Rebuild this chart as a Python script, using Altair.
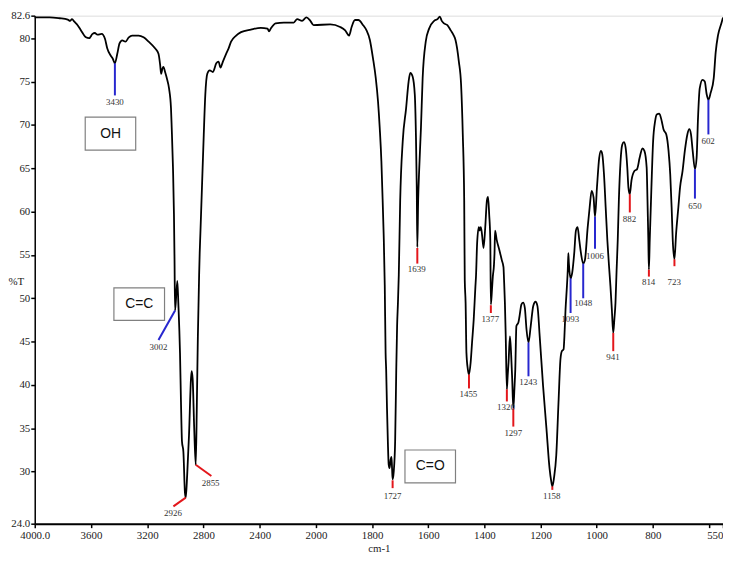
import altair as alt
import pandas as pd

# ---- spectrum (wavenumber cm-1, %T) ----
wn = [4000, 3894, 3824, 3765, 3749, 3735, 3718, 3695, 3671, 3636, 3613, 3589, 3573, 3554, 3524,
      3500, 3484, 3460, 3444, 3430, 3413, 3397, 3378, 3355, 3331, 3308, 3261, 3226, 3190, 3143,
      3120, 3108, 3101, 3092, 3085, 3073, 3061, 3045, 3031, 3026, 3017, 3010, 3006, 3002, 2986,
      2979, 2967, 2960, 2953, 2943, 2932, 2926, 2916, 2903, 2889, 2884, 2877, 2866, 2855, 2847,
      2840, 2831, 2827, 2822, 2810, 2798, 2787, 2773, 2756, 2733, 2709, 2693, 2679, 2662, 2639,
      2622, 2604, 2568, 2533, 2463, 2392, 2345, 2334, 2322, 2287, 2228, 2158, 2134, 2099, 2068,
      2040, 2017, 1949, 1914, 1896, 1882, 1873, 1861, 1849, 1832, 1820, 1808, 1797, 1787, 1779,
      1773, 1767, 1764, 1759, 1755, 1752, 1750, 1747, 1744, 1741, 1738, 1734, 1731, 1729, 1727,
      1723, 1718, 1714, 1711, 1708, 1705, 1700, 1691, 1679, 1670, 1664, 1656, 1648, 1644, 1641,
      1639, 1636, 1633, 1626, 1620, 1609, 1597, 1579, 1567, 1559, 1552, 1544, 1532, 1520, 1509,
      1503, 1491, 1483, 1477, 1472, 1470, 1467, 1464, 1459, 1455, 1449, 1444, 1438, 1432, 1430,
      1426, 1420, 1417, 1413, 1409, 1403, 1397, 1391, 1387, 1383, 1379, 1377, 1373, 1370, 1366,
      1364, 1362, 1356, 1347, 1338, 1332, 1330, 1327, 1324, 1320, 1317, 1314, 1309, 1305, 1301,
      1297, 1293, 1290, 1286, 1279, 1275, 1268, 1262, 1256, 1250, 1243, 1235, 1226, 1218, 1211,
      1203, 1191, 1179, 1168, 1162, 1158, 1152, 1144, 1136, 1129, 1124, 1118, 1115, 1111, 1106,
      1103, 1101, 1099, 1093, 1087, 1080, 1074, 1068, 1062, 1056, 1048, 1042, 1032, 1025, 1018,
      1011, 1006, 999, 991, 985, 980, 974, 968, 962, 956, 951, 946, 941, 937, 933,
      929, 925, 921, 915, 909, 903, 897, 891, 887, 882, 876, 865, 856, 847, 837,
      830, 822, 819, 816, 814, 811, 805, 799, 792, 786, 777, 768, 762, 752, 744,
      738, 733, 729, 723, 717, 709, 703, 694, 686, 677, 670, 664, 658, 650, 644,
      639, 633, 623, 615, 608, 602, 594, 583, 576, 568, 556, 550]
tr = [82.4, 82.4, 82.3, 82.15, 82.0, 82.2, 81.9, 81.5, 80.9, 80.1, 80.0, 80.5, 80.6, 80.4, 80.5,
      79.9, 78.8, 78.0, 77.6, 77.1, 78.2, 79.4, 79.75, 79.6, 80.1, 80.3, 80.3, 80.1, 79.6, 78.8,
      78.2, 76.9, 75.9, 76.5, 76.7, 76.1, 75.4, 74.2, 71.9, 69.7, 65.1, 59.7, 54.5, 48.6, 52.0,
      49.5, 43.7, 38.0, 33.5, 32.3, 27.6, 27.0, 29.6, 34.2, 40.7, 41.6, 40.7, 35.0, 30.8, 38.0,
      45.6, 52.7, 55.2, 57.5, 63.2, 68.9, 73.5, 75.9, 76.3, 76.1, 77.1, 77.3, 76.6, 77.3, 78.2,
      78.8, 79.6, 80.3, 80.7, 81.0, 81.2, 81.1, 80.8, 81.1, 81.7, 81.8, 81.8, 82.2, 82.0, 82.4,
      82.0, 81.5, 81.6, 81.3, 80.9, 80.3, 81.3, 82.1, 82.1, 81.5, 80.9, 79.8, 77.7, 75.4, 72.7,
      69.7, 65.8, 62.8, 57.5, 51.5, 43.7, 41.8, 37.3, 33.5, 30.8, 30.4, 31.4, 31.7, 30.4, 29.1,
      30.0, 33.5, 41.8, 46.8, 49.5, 52.7, 61.3, 68.1, 71.9, 75.0, 76.0, 75.6, 73.5, 68.9, 62.8,
      55.9, 61.3, 64.3, 69.7, 75.4, 79.6, 81.1, 82.0, 82.2, 82.5, 82.0, 81.7, 81.5, 80.9, 80.3,
      79.8, 77.3, 74.6, 68.9, 61.3, 52.1, 49.5, 43.7, 41.8, 41.2, 42.6, 44.9, 47.6, 51.4, 52.5,
      56.3, 58.2, 57.8, 58.2, 57.5, 55.8, 58.2, 61.3, 61.7, 59.7, 56.7, 49.3, 51.0, 52.5, 53.8,
      55.2, 57.8, 56.7, 55.6, 54.4, 53.6, 52.1, 49.5, 45.6, 39.5, 41.1, 42.6, 45.6, 43.7, 40.7,
      37.3, 39.6, 41.8, 46.8, 47.2, 47.9, 49.3, 49.5, 48.9, 46.4, 44.9, 46.8, 49.1, 49.6, 49.1,
      45.6, 39.9, 35.0, 30.4, 28.9, 28.3, 29.3, 31.9, 38.0, 43.0, 43.9, 44.1, 45.6, 48.7, 51.4,
      53.3, 55.2, 54.0, 52.3, 53.0, 55.2, 57.8, 58.2, 56.7, 55.2, 54.0, 54.4, 58.2, 60.5, 62.4,
      61.6, 59.4, 62.8, 66.2, 67.0, 66.6, 64.3, 60.5, 56.7, 53.7, 51.4, 48.7, 46.0, 47.6, 49.5,
      53.3, 56.7, 61.3, 65.8, 67.7, 68.0, 67.4, 65.1, 62.8, 62.0, 63.6, 64.7, 64.9, 66.2, 67.3,
      67.0, 65.1, 61.3, 56.7, 53.3, 56.7, 62.8, 68.1, 70.4, 71.2, 71.3, 70.4, 69.5, 68.9, 67.0,
      64.3, 60.5, 56.7, 54.5, 57.5, 60.5, 62.8, 64.7, 67.0, 68.9, 69.5, 68.9, 67.0, 64.9, 66.2,
      70.8, 74.2, 75.2, 75.0, 73.5, 72.9, 73.7, 75.4, 78.4, 80.3, 81.7, 82.4]

# ---- peak markers ----
pk_label = ["3430", "3002", "2926", "2855", "1727", "1639", "1455", "1377", "1320", "1297",
            "1243", "1158", "1093", "1048", "1006", "941", "882", "814", "723", "650", "602"]
pk_x1 = [3430, 3002, 2926, 2855, 1727, 1639, 1455, 1377, 1320, 1297,
         1243, 1158, 1093, 1048, 1006, 941, 882, 814, 723, 650, 602]
pk_y1 = [77.1, 48.6, 27.0, 30.8, 29.0, 55.8, 41.2, 49.2, 39.5, 37.3,
         44.9, 28.3, 52.3, 54.0, 59.4, 46.0, 62.0, 53.3, 54.5, 64.9, 72.9]
pk_x2 = [3430, 3120, 3014, 2744, 1727, 1639, 1455, 1377, 1320, 1297,
         1243, 1158, 1093, 1048, 1006, 941, 882, 814, 723, 650, 602]
pk_y2 = [73.4, 45.2, 26.0, 29.5, 28.1, 54.0, 39.6, 48.3, 38.1, 35.2,
         41.0, 27.9, 48.3, 50.0, 55.7, 43.9, 59.9, 52.5, 53.7, 61.5, 68.9]
pk_lx = [3430, 3120, 3017, 2749, 1727, 1641, 1457, 1379, 1323, 1297,
         1244, 1160, 1094, 1048, 1006, 942, 883, 815, 724, 650, 603]
pk_ly = [72.6, 44.4, 25.2, 28.7, 27.2, 53.4, 38.9, 47.6, 37.5, 34.5,
         40.3, 27.2, 47.6, 49.4, 54.9, 43.2, 59.1, 51.9, 51.9, 60.6, 68.1]
pk_kind = ["blue", "blue", "red", "red", "red", "red", "red", "red", "red", "red",
           "blue", "red", "blue", "blue", "blue", "red", "red", "red", "red", "blue", "blue"]

# ---- group boxes ----
box_text = ["OH", "C=C", "C=O"]
box_x1 = [3641, 3437, 1683]
box_x2 = [3282, 3077, 1503]
box_y1 = [70.9, 51.2, 32.5]
box_y2 = [67.1, 47.45, 28.7]
box_cx = [3461, 3257, 1593]
box_cy = [69.0, 49.3, 30.6]

x_ticks = [4000, 3600, 3200, 2800, 2400, 2000, 1800, 1600, 1400, 1200, 1000, 800, 600, 550]
y_ticks = [24, 30, 35, 40, 45, 50, 55, 60, 65, 70, 75, 80, 82.6]

spec = pd.DataFrame({"wn": wn, "t": tr})
peaks = pd.DataFrame({"lab": pk_label, "wn": pk_x1, "t": pk_y1, "wn2": pk_x2, "t2": pk_y2,
                      "lx": pk_lx, "ly": pk_ly, "kind": pk_kind})
boxes = pd.DataFrame({"txt": box_text, "wn": box_x1, "wn2": box_x2, "t": box_y1, "t2": box_y2,
                      "cx": box_cx, "cy": box_cy})

SERIF = "Liberation Serif"
xscale = alt.Scale(domain=[4000, 2000, 550], range=[0, 284, 695], nice=False, zero=False)
yscale = alt.Scale(domain=[24, 82.6], nice=False, zero=False)

xaxis = alt.Axis(values=x_ticks, format="d",
                 labelExpr="datum.value == 4000 ? '4000.0' : (datum.value == 600 ? '' : toString(datum.value))",
                 labelAlign={"expr": "datum.value == 550 ? 'right' : 'center'"},
                 labelFlush=False, labelOverlap=False, grid=False,
                 domainColor="black", domainWidth=2, tickColor="black", tickWidth=1.5, tickSize=4,
                 labelFont=SERIF, labelFontSize=11, labelColor="#222", labelPadding=2,
                 titleFont=SERIF, titleFontSize=11, titleFontWeight="normal", titleColor="#222",
                 titlePadding=2)
yaxis = alt.Axis(values=y_ticks,
                 labelExpr="datum.value == 24 ? '24.0' : toString(datum.value)",
                 labelOverlap=False, labelFlush=False, grid=False,
                 domainColor="black", domainWidth=1.5, tickColor="black", tickWidth=1.5, tickSize=4,
                 labelFont=SERIF, labelFontSize=11, labelColor="#222", labelPadding=1,
                 titleFont=SERIF, titleFontSize=11, titleFontWeight="normal", titleColor="#222",
                 titleAngle=0, titleX=-27, titleY=268, titleAlign="left", titleBaseline="middle")

X = alt.X("wn:Q", scale=xscale, axis=xaxis, title="cm-1")
Y = alt.Y("t:Q", scale=yscale, axis=yaxis, title="%T")

box_layer = alt.Chart(boxes).mark_rect(fill="white", stroke="#808080", strokeWidth=1.2).encode(
    x=X, x2="wn2:Q", y=Y, y2="t2:Q")
box_txt = alt.Chart(boxes).mark_text(font="Liberation Sans", fontSize=14, color="#111").encode(
    x=alt.X("cx:Q", scale=xscale), y=alt.Y("cy:Q", scale=yscale), text="txt:N")

line = alt.Chart(spec).mark_line(color="black", strokeWidth=1.8, interpolate="monotone").encode(
    x=X, y=Y, order=alt.Order("wn:Q", sort="descending"))

rules = alt.Chart(peaks).mark_rule(strokeWidth=2).encode(
    x=X, x2="wn2:Q", y=Y, y2="t2:Q",
    color=alt.Color("kind:N", scale=alt.Scale(domain=["blue", "red"], range=["#2727cf", "#e3161b"]),
                    legend=None))
labels = alt.Chart(peaks).mark_text(font=SERIF, fontSize=9, color="#333").encode(
    x=alt.X("lx:Q", scale=xscale), y=alt.Y("ly:Q", scale=yscale), text="lab:N")

chart = alt.layer(box_layer, box_txt, line, rules, labels).properties(
    width=695, height=513,
    padding={"left": 27, "top": 5, "right": 0, "bottom": 40},
    autosize=alt.AutoSizeParams(type="none"),
).configure_view(stroke=None).configure(background="white")

chart.save("out.html", embed_options={"renderer": "svg", "actions": False})
